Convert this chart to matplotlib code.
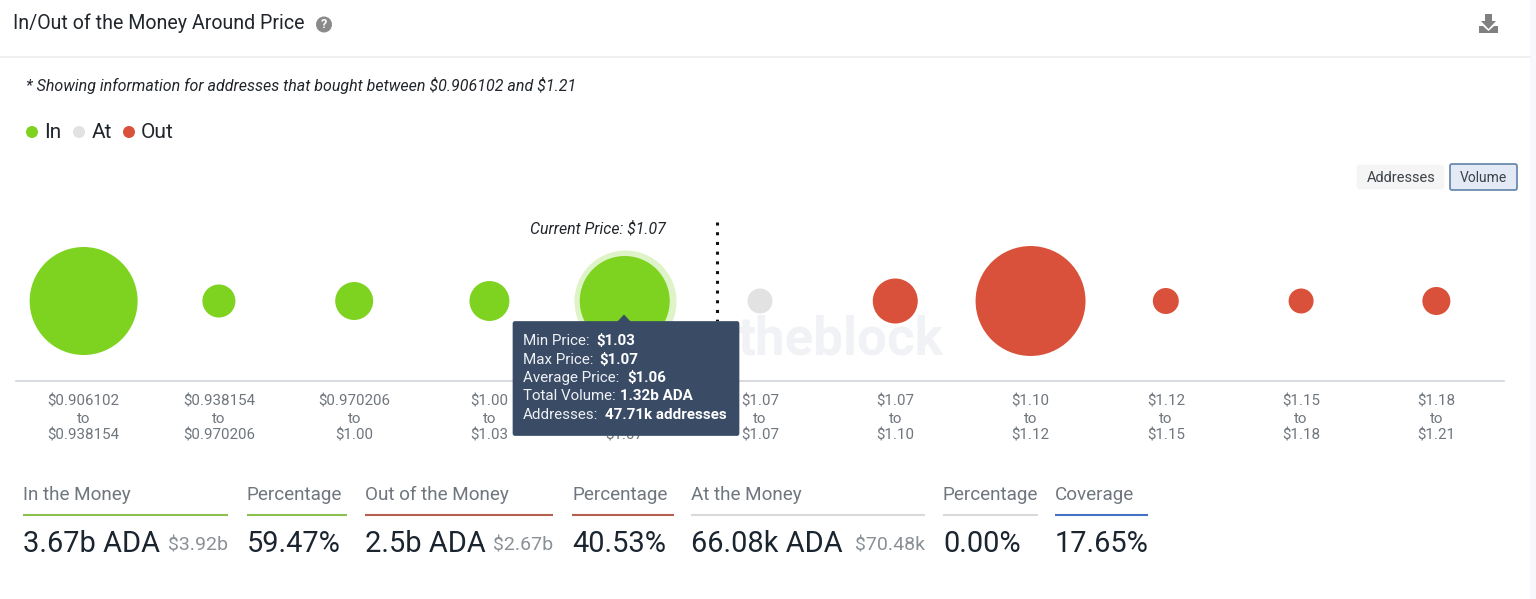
import numpy as np
import matplotlib
matplotlib.use("Agg")
import matplotlib.pyplot as plt
from matplotlib.patches import FancyBboxPatch, Circle, Polygon, Rectangle

plt.rcParams['font.family'] = ['Roboto', 'DejaVu Sans']
plt.rcParams['text.parse_math'] = False

# ---- data ----
range_low = ["$0.906102", "$0.938154", "$0.970206", "$1.00", "$1.03", "$1.07",
             "$1.07", "$1.10", "$1.12", "$1.15", "$1.18"]
range_high = ["$0.938154", "$0.970206", "$1.00", "$1.03", "$1.07", "$1.07",
              "$1.10", "$1.12", "$1.15", "$1.18", "$1.21"]
volumes_b = [1.90, 0.178, 0.235, 0.26, 1.32, 0.000066, 0.33, 1.97, 0.11, 0.10, 0.128]
status = ["In", "In", "In", "In", "In", "At", "Out", "Out", "Out", "Out", "Out"]
active_index = 4
current_price_pos = 4.68

legend_names = ["In", "At", "Out"]
stat_labels = ["In the Money", "Percentage", "Out of the Money", "Percentage",
               "At the Money", "Percentage", "Coverage"]
stat_values = ["3.67b ADA", "59.47%", "2.5b ADA", "40.53%", "66.08k ADA", "0.00%", "17.65%"]
stat_usd = ["$3.92b", "", "$2.67b", "", "$70.48k", "", ""]
tooltip_keys = ["Min Price:", "Max Price:", "Average Price:", "Total Volume:", "Addresses:"]
tooltip_vals = ["$1.03", "$1.07", "$1.06", "1.32b ADA", "47.71k addresses"]

# ---- style ----
W, H = 1536, 599
GREEN, GREY, RED = "#7ed321", "#e2e2e2", "#d9513a"
colors = {"In": GREEN, "At": GREY, "Out": RED}
dark = "#1b2530"
mid = "#6f767d"

fig = plt.figure(figsize=(W / 100, H / 100), dpi=100, facecolor="white")

def px_axes(x0, y0, x1, y1):
    return fig.add_axes([x0 / W, 1 - y1 / H, (x1 - x0) / W, (y1 - y0) / H])

# overlay in pixel units, below
bg = px_axes(0, 0, W, H)
bg.set_xlim(0, W); bg.set_ylim(H, 0); bg.axis("off"); bg.set_zorder(0)
bg.add_patch(Rectangle((1530, 0), 6, H, color="#f6f8fc", lw=0))
bg.plot([0, 1530], [57, 57], color="#eeeeee", lw=1.2)
bg.text(13, 23, "In/Out of the Money Around Price", fontsize=14.1, color="#20262c", va="center")
bg.add_patch(Circle((324, 24.5), 8, color="#8a8a8a", lw=0))
bg.text(324, 24.5, "?", fontsize=9, color="white", ha="center", va="center", fontweight="bold")
bg.text(26, 85.5, "* Showing information for addresses that bought between $0.906102 and $1.21",
        fontsize=11.5, style="italic", color="#20262c", va="center")
for cx, tx, name in zip([32, 79, 129], [44, 92, 141], legend_names):
    bg.add_patch(Circle((cx, 132), 6, color=colors[name], lw=0))
    bg.text(tx, 133, name, fontsize=15, color="#20262c", va="center")

# buttons
bg.add_patch(FancyBboxPatch((1358, 166), 85, 22, boxstyle="round,pad=0,rounding_size=2",
                            fc="#f5f5f5", ec="#f5f5f5", lw=2))
bg.text(1401, 177.5, "Addresses", fontsize=10.5, color="#3c4248", ha="center", va="center")
bg.add_patch(FancyBboxPatch((1450, 164), 67, 26, boxstyle="round,pad=0,rounding_size=2",
                            fc="#e4eaf5", ec="#5f83a8", lw=1.2))
bg.text(1483, 177.5, "Volume", fontsize=10, color="#3c4248", ha="center", va="center")

# download icon
icon = "#808080"
bg.add_patch(Polygon([(1485, 14), (1492, 14), (1492, 21), (1496, 21), (1488.5, 29),
                      (1481, 21), (1485, 21)], closed=True, color=icon, lw=0))
bg.add_patch(Polygon([(1479, 26), (1483, 26), (1488.5, 31), (1494, 26), (1498, 26),
                      (1498, 33), (1479, 33)], closed=True, color=icon, lw=0))

# watermark
bg.text(738, 340, "theblock", fontsize=38.2, fontweight="bold", color="#f0f2f6", va="center")

# ---- bubble chart ----
ax = px_axes(16, 210, 1504, 381)
ax.set_zorder(1)
ax.patch.set_alpha(0)
ax.set_xlim(-0.5, 10.5)
ax.set_ylim(-1, 1.1375)
x = np.arange(len(volumes_b))
k = 45 / np.sqrt(volumes_b[active_index])
radii_px = np.maximum(k * np.sqrt(volumes_b), 12.5)
sizes = (2 * radii_px * 0.72) ** 2
ax.scatter(x[[active_index]], [0], s=(2 * (radii_px[active_index] + 6) * 0.72) ** 2,
           color="#dff3c8", linewidths=0, zorder=2)
ax.scatter(x, np.zeros_like(x), s=sizes, c=[colors[s] for s in status], linewidths=0,
           zorder=3, clip_on=False)
ax.plot([current_price_pos] * 2, [0.99, -0.25], color="#111111", lw=2.2,
        linestyle=(0, (1, 2.18)), zorder=1, clip_on=False)
ax.text(3.80, 0.90, "Current Price: $1.07", fontsize=11.4, style="italic",
        color="#20262c", ha="center", va="center")
for s in ["top", "left", "right"]:
    ax.spines[s].set_visible(False)
ax.spines["bottom"].set_color("#cfd3d8")
ax.spines["bottom"].set_linewidth(1.2)
ax.set_yticks([])
ax.set_xticks(x)
ax.set_xticklabels([f"{a}\nto\n{b}" for a, b in zip(range_low, range_high)],
                   fontsize=10.9, color=mid, linespacing=1.24)
ax.tick_params(axis="x", length=0, pad=10)

# ---- foreground: tooltip and stats ----
fg = px_axes(0, 0, W, H)
fg.set_xlim(0, W); fg.set_ylim(H, 0); fg.axis("off"); fg.set_zorder(2)
fg.patch.set_alpha(0)
navy = "#3a4b65"
fg.add_patch(FancyBboxPatch((513, 321.5), 226, 114, boxstyle="round,pad=0,rounding_size=2",
                            fc=navy, ec=navy, lw=0.5))
fg.add_patch(Polygon([(617, 322), (624, 314.5), (631, 322)], closed=True, color=navy, lw=0))
for y, key, val, bx in zip([341, 359.5, 378, 396.5, 415], tooltip_keys, tooltip_vals,
                           [596, 599, 627, 620, 605]):
    fg.text(523, y, key, fontsize=10.9, color="#eef1f5", va="center")
    fg.text(bx, y, val, fontsize=10.9, color="white", fontweight="bold", va="center")

stat_x0 = [23, 247, 365, 572, 691, 943, 1055]
stat_x1 = [228, 347, 553, 674, 925, 1038, 1148]
stat_line = ["#8cc152", "#8cc152", "#b5604f", "#b5604f", "#d9d9d9", "#d9d9d9", "#4472c4"]
usd_x = [228, None, 553, None, 925, None, None]
for i, lab in enumerate(stat_labels):
    bg.text(stat_x0[i], 495, lab, fontsize=13.6, color=mid, va="center")
    bg.plot([stat_x0[i], stat_x1[i]], [515, 515], color=stat_line[i], lw=1.5, solid_capstyle="butt")
    bg.text(stat_x0[i], 544, stat_values[i], fontsize=20.9, color=dark, va="center")
    if stat_usd[i]:
        bg.text(usd_x[i], 546, stat_usd[i], fontsize=14, color="#8a9096", va="center", ha="right")

fig.savefig("out.png", dpi=100, facecolor="white")
